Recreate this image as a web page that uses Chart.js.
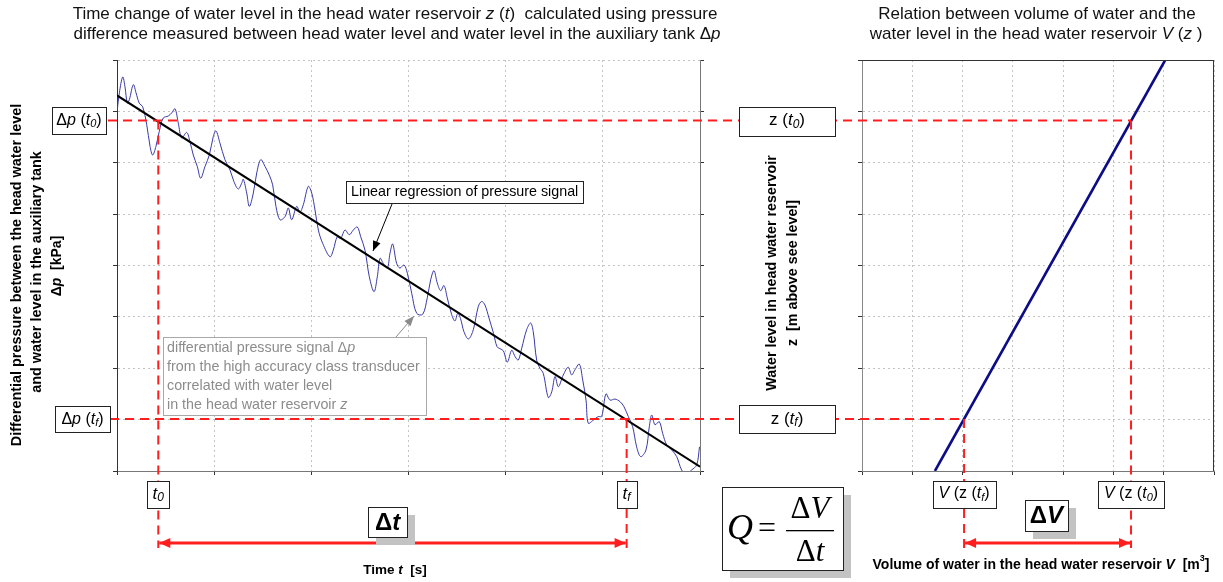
<!DOCTYPE html>
<html>
<head>
<meta charset="utf-8">
<script src="https://cdn.jsdelivr.net/npm/chart.js@4/dist/chart.umd.min.js"></script>
<style>
  html, body { margin: 0; padding: 0; background: #fff; }
  #wrap { position: relative; width: 1223px; height: 582px; overflow: hidden; }
  #wrap canvas { position: absolute; left: 0; top: 0; }
</style>
</head>
<body>
<div id="wrap">
  <canvas id="pressure" width="1223" height="582"></canvas>
  <canvas id="volume" width="1223" height="582"></canvas>
</div>
<script>
// ---- measured pressure signal (time, differential pressure) ----
const signalTime = [0.003,0.024,0.059,0.082,0.106,0.127,0.168,0.196,0.229,0.264,0.306,0.340,0.367,0.401,0.435,0.476,0.528,0.563,0.597,0.631,0.666,0.717,0.751,0.785,0.826,0.861,0.906,0.950,0.991,1.019,1.060,1.111,1.163,1.204,1.248,1.283,1.300,1.335,1.362,1.403,1.438,1.479,1.523,1.567,1.602,1.636,1.677,1.729,1.763,1.798,1.849,1.883,1.917,1.969,2.004,2.038,2.072,2.117,2.192,2.226,2.267,2.302,2.346,2.391,2.432,2.473,2.508,2.552,2.597,2.645,2.679,2.707,2.741,2.782,2.810,2.837,2.878,2.912,2.954,2.988,3.033,3.084,3.146,3.193,3.228,3.262,3.296,3.331,3.365,3.399,3.445,3.478,3.507,3.535,3.571,3.617,3.667,3.718,3.753,3.787,3.828,3.875,3.911,3.942,3.976,4.017,4.062,4.096,4.130,4.165,4.216,4.257,4.284,4.319,4.353,4.387,4.439,4.474,4.508,4.542,4.593,4.644,4.679,4.713,4.758,4.793,4.827,4.850,4.902,4.953,4.988,5.032,5.074,5.125,5.177,5.218,5.262,5.307,5.348,5.390,5.444,5.478,5.503,5.537,5.581,5.616,5.657,5.709,5.760,5.811,5.856,5.914,5.966,5.995];
const signalDp   = [7.03,7.36,7.67,7.48,7.16,7.23,7.52,7.36,7.16,7.09,6.74,6.32,6.15,6.32,6.61,6.87,6.91,6.97,7.05,6.77,6.48,6.59,6.41,6.15,5.93,5.70,5.93,6.15,6.51,6.62,6.38,6.06,5.86,5.63,5.49,5.60,5.68,5.41,5.15,5.41,5.80,6.06,5.93,5.76,5.57,5.15,4.89,4.95,5.12,4.89,5.15,5.04,5.18,5.54,5.41,5.08,4.69,4.43,4.17,4.30,4.56,4.53,4.69,4.60,4.69,4.75,4.56,4.30,3.78,3.49,3.78,4.14,4.04,3.95,4.24,4.42,4.04,3.95,4.01,3.85,3.46,3.07,3.05,3.37,3.72,3.90,3.66,3.51,3.61,3.37,3.04,2.92,3.07,2.97,2.71,2.57,2.75,3.20,3.30,3.23,2.98,2.68,2.42,2.38,2.34,2.12,2.35,2.23,2.16,2.39,2.75,2.88,2.71,2.16,2.00,1.90,1.43,1.54,1.84,1.64,1.87,2.02,1.87,1.97,2.08,1.77,1.38,0.93,0.99,1.06,1.06,1.50,1.38,1.40,1.35,1.25,1.06,0.86,0.47,0.28,0.41,0.86,1.09,0.90,0.96,0.73,0.51,0.41,0.28,0.02,-0.06,0.02,0.12,0.47];

// ---- linear regression of the pressure signal ----
const regressionTime = [0, 6];
const regressionDp   = [7.31, 0.084];

// ---- reservoir characteristic V(z) ----
const curveVolume = [1.45, 6.03];
const curveLevel  = [0, 8];

// ---- marked instants and levels ----
const t0 = 0.425, tf = 5.245;        // start / end of the measurement window
const dpT0 = 6.82, dpTf = 1.01;      // pressure at t0 and tf
const zT0 = 6.82, zTf = 1.01;        // matching water levels
const vT0 = 5.35, vTf = 2.03;        // volumes read from V(z)

// ---- axis ranges (tick labels are not printed) ----
const timeRange = [0, 6];
const dpRange = [0, 8];
const volumeRange = [0, 7];
const levelRange = [0, 8];

const SANS = '"Liberation Sans", Arial, Helvetica, sans-serif';
const SERIF = '"Liberation Serif", "Times New Roman", serif';
const GRID = '#c4c4c4';
const RED = '#ff1e1e';

function f(size, style) { return (style || '') + ' ' + size + 'px ' + SANS; }

// draws a line of text made of differently styled pieces: [text, font, dy]
function textRuns(ctx, parts, x, y, align) {
  let w = 0;
  parts.forEach(p => { ctx.font = p[1]; w += ctx.measureText(p[0]).width; });
  let cx = align === 'center' ? x - w / 2 : align === 'right' ? x - w : x;
  ctx.textAlign = 'left';
  ctx.textBaseline = 'middle';
  parts.forEach(p => {
    ctx.font = p[1];
    ctx.fillText(p[0], cx, y + (p[2] || 0));
    cx += ctx.measureText(p[0]).width;
  });
}

function rotatedRuns(ctx, parts, x, y) {
  ctx.save();
  ctx.translate(x, y);
  ctx.rotate(-Math.PI / 2);
  textRuns(ctx, parts, 0, 0, 'center');
  ctx.restore();
}

function box(ctx, x, y, w, h, shadow) {
  if (shadow) {
    ctx.fillStyle = '#c3c3c3';
    ctx.fillRect(x + shadow, y + shadow, w, h);
  }
  ctx.fillStyle = '#fff';
  ctx.fillRect(x, y, w, h);
  ctx.strokeStyle = '#222';
  ctx.lineWidth = 1;
  ctx.strokeRect(Math.round(x) + 0.5, Math.round(y) + 0.5, Math.round(w), Math.round(h));
}

function arrowHead(ctx, x1, y1, x2, y2, len, half) {
  const a = Math.atan2(y2 - y1, x2 - x1);
  ctx.beginPath();
  ctx.moveTo(x2, y2);
  ctx.lineTo(x2 - len * Math.cos(a) + half * Math.sin(a), y2 - len * Math.sin(a) - half * Math.cos(a));
  ctx.lineTo(x2 - len * Math.cos(a) - half * Math.sin(a), y2 - len * Math.sin(a) + half * Math.cos(a));
  ctx.closePath();
  ctx.fill();
}

function arrow(ctx, x1, y1, x2, y2, color, width, len, half, both) {
  ctx.strokeStyle = color;
  ctx.fillStyle = color;
  ctx.lineWidth = width;
  ctx.setLineDash([]);
  ctx.beginPath();
  ctx.moveTo(x1, y1);
  ctx.lineTo(x2, y2);
  ctx.stroke();
  arrowHead(ctx, x1, y1, x2, y2, len, half);
  if (both) arrowHead(ctx, x2, y2, x1, y1, len, half);
}

function dashed(ctx, x1, y1, x2, y2) {
  ctx.strokeStyle = RED;
  ctx.lineWidth = 2;
  ctx.setLineDash([9, 6]);
  ctx.beginPath();
  ctx.moveTo(x1, y1);
  ctx.lineTo(x2, y2);
  ctx.stroke();
  ctx.setLineDash([]);
}

// subscripted time labels
const tSub = (s, size) => [['t', f(size, 'italic')], [s, f(Math.round(size * 0.68), 'italic'), size * 0.22]];

function axisCommon(range, borderColor) {
  return {
    type: 'linear', min: range[0], max: range[1],
    ticks: { display: false, stepSize: 1 },
    grid: { color: GRID, lineWidth: 1, drawTicks: true, tickLength: 4, tickColor: '#333', tickWidth: 1 },
    border: { display: true, color: borderColor, width: 1, dash: [2, 3] }
  };
}

let pressureChart;

// ---------------- pressure vs time ----------------
pressureChart = new Chart(document.getElementById('pressure'), {
  type: 'line',
  data: {
    datasets: [
      {
        label: 'regression',
        data: regressionTime.map((t, i) => ({ x: t, y: regressionDp[i] })),
        borderColor: '#000', borderWidth: 2, pointRadius: 0, order: 0
      },
      {
        label: 'signal',
        data: signalTime.map((t, i) => ({ x: t, y: signalDp[i] })),
        borderColor: '#3838a8', borderWidth: 1, pointRadius: 0, tension: 0.35, order: 1
      }
    ]
  },
  options: {
    responsive: false, animation: false, devicePixelRatio: 1,
    layout: { padding: { left: 113, right: 519, top: 60, bottom: 107 } },
    plugins: { legend: { display: false }, tooltip: { enabled: false } },
    scales: {
      x: axisCommon(timeRange, '#777'),
      y: axisCommon(dpRange, '#333'),
      y2: Object.assign(axisCommon(dpRange, '#777'), { position: 'right', grid: { drawOnChartArea: false, drawTicks: true, tickLength: 4, tickColor: '#333' } })
    }
  }
});

// ---------------- overlay: guide lines, labels, formula ----------------
const overlay = {
  id: 'overlay',
  afterDraw(chart) {
    const ctx = chart.ctx;
    const px = pressureChart.scales.x, py = pressureChart.scales.y;
    const vx = chart.scales.x, vy = chart.scales.y;
    const ca = chart.chartArea;

    ctx.save();
    // right panel outline on top and right
    ctx.strokeStyle = '#333';
    ctx.lineWidth = 1;
    ctx.beginPath();
    ctx.moveTo(Math.round(ca.left), Math.round(ca.top) + 0.5);
    ctx.lineTo(Math.round(ca.right), Math.round(ca.top) + 0.5);
    ctx.moveTo(Math.round(ca.right) - 0.5, Math.round(ca.top));
    ctx.lineTo(Math.round(ca.right) - 0.5, Math.round(ca.bottom));
    ctx.stroke();

    const yT0 = py.getPixelForValue(dpT0), yTf = py.getPixelForValue(dpTf);
    const xT0 = px.getPixelForValue(t0), xTf = px.getPixelForValue(tf);
    const xVT0 = vx.getPixelForValue(vT0), xVTf = vx.getPixelForValue(vTf);
    const yZT0 = vy.getPixelForValue(zT0), yZTf = vy.getPixelForValue(zTf);
    const lowEnd = 548, arrowY = 543;

    // red guide lines
    dashed(ctx, 108, yT0, xVT0, yZT0);
    dashed(ctx, 110, yTf, xVTf, yZTf);
    dashed(ctx, xT0, yT0, xT0, lowEnd);
    dashed(ctx, xTf, yTf, xTf, lowEnd);
    dashed(ctx, xVTf, yZTf, xVTf, lowEnd);
    dashed(ctx, xVT0, yZT0, xVT0, lowEnd);

    // interval arrows
    arrow(ctx, xT0 + 1, arrowY, xTf - 1, arrowY, RED, 3, 11, 5, true);
    arrow(ctx, xVTf + 1, arrowY, xVT0 - 1, arrowY, RED, 3, 11, 5, true);

    ctx.fillStyle = '#000';
    // pressure labels on the left
    box(ctx, 52, yT0 - 13.5, 54, 27);
    ctx.fillStyle = '#000';
    textRuns(ctx, [['Δ', f(16)], ['p', f(16, 'italic')], [' (', f(16)], ...tSub('0', 16), [')', f(16)]], 79, yT0, 'center');
    box(ctx, 55, yTf - 13, 55, 26);
    ctx.fillStyle = '#000';
    textRuns(ctx, [['Δ', f(16)], ['p', f(16, 'italic')], [' (', f(16)], ...tSub('f', 16), [')', f(16)]], 82.5, yTf, 'center');

    // level labels in the middle
    box(ctx, 739, yZT0 - 14, 96, 29);
    ctx.fillStyle = '#000';
    textRuns(ctx, [['z', f(17)], [' (', f(17)], ...tSub('0', 17), [')', f(17)]], 787, yZT0, 'center');
    box(ctx, 739, yZTf - 14, 96, 28);
    ctx.fillStyle = '#000';
    textRuns(ctx, [['z', f(17)], [' (', f(17)], ...tSub('f', 17), [')', f(17)]], 787, yZTf, 'center');

    // time labels under the axis
    box(ctx, xT0 - 11, 481, 22, 27);
    ctx.fillStyle = '#000';
    textRuns(ctx, tSub('0', 17), xT0, 494, 'center');
    box(ctx, xTf - 10, 481, 20, 27);
    ctx.fillStyle = '#000';
    textRuns(ctx, tSub('f', 17), xTf, 494, 'center');

    // volume labels under the axis
    box(ctx, xVTf - 31, 481, 63, 27);
    ctx.fillStyle = '#000';
    textRuns(ctx, [['V', f(16, 'italic')], [' (', f(16)], ['z', f(16)], [' (', f(16)], ...tSub('f', 16), [')', f(16)]], xVTf, 494, 'center');
    box(ctx, xVT0 - 33, 481, 66, 27);
    ctx.fillStyle = '#000';
    textRuns(ctx, [['V', f(16, 'italic')], [' (', f(16)], ['z', f(16)], [' (', f(16)], ...tSub('0', 16), [')', f(16)]], xVT0, 494, 'center');

    // interval labels with shadow
    box(ctx, 368, 507, 39, 30, 8);
    ctx.fillStyle = '#000';
    textRuns(ctx, [['Δ', f(24, 'bold')], ['t', f(24, 'bold italic')]], 387.5, 523, 'center');
    box(ctx, 1025, 500, 43, 31, 8);
    ctx.fillStyle = '#000';
    textRuns(ctx, [['Δ', f(24, 'bold')], ['V', f(24, 'bold italic')]], 1046.5, 516, 'center');

    // flow formula
    box(ctx, 722, 487, 121, 83, 8);
    ctx.fillStyle = '#000';
    textRuns(ctx, [['Q', 'italic 36px ' + SERIF]], 740, 530, 'center');
    textRuns(ctx, [['=', '32px ' + SERIF]], 767, 530, 'center');
    textRuns(ctx, [['Δ', '31px ' + SERIF], ['V', 'italic 31px ' + SERIF]], 810, 510, 'center');
    textRuns(ctx, [['Δ', '31px ' + SERIF], ['t', 'italic 31px ' + SERIF]], 810, 553, 'center');
    ctx.fillRect(786, 530, 48, 1.3);

    // annotation of the regression line
    arrow(ctx, 392, 204, 373, 251, '#000', 1, 10, 4, false);
    box(ctx, 346, 181, 237, 22);
    ctx.fillStyle = '#000';
    textRuns(ctx, [['Linear regression of pressure signal', f(14.3)]], 351, 192.5, 'left');

    // annotation of the pressure signal
    arrow(ctx, 396, 337, 414, 316, '#8a8a8a', 1, 10, 4, false);
    ctx.fillStyle = '#fff';
    ctx.fillRect(163, 337, 263, 78);
    ctx.strokeStyle = '#a8a8a8';
    ctx.lineWidth = 1;
    ctx.strokeRect(163.5, 337.5, 263, 78);
    ctx.fillStyle = '#8c8c8c';
    textRuns(ctx, [['differential pressure signal Δ', f(14.3)], ['p', f(14.3, 'italic')]], 167, 348, 'left');
    textRuns(ctx, [['from the high accuracy class transducer', f(14.3)]], 167, 367, 'left');
    textRuns(ctx, [['correlated with water level', f(14.3)]], 167, 386, 'left');
    textRuns(ctx, [['in the head water reservoir ', f(14.3)], ['z', f(14.3, 'italic')]], 167, 405, 'left');

    // panel titles
    ctx.fillStyle = '#111';
    textRuns(ctx, [['Time change of water level in the head water reservoir ', f(17)], ['z', f(17, 'italic')], [' (', f(17)], ['t', f(17, 'italic')], [')  calculated using pressure', f(17)]], 395, 14, 'center');
    textRuns(ctx, [['difference measured between head water level and water level in the auxiliary tank Δ', f(17)], ['p', f(17, 'italic')]], 397, 34, 'center');
    textRuns(ctx, [['Relation between volume of water and the', f(17)]], 1037, 14, 'center');
    textRuns(ctx, [['water level in the head water reservoir ', f(17)], ['V', f(17, 'italic')], [' (', f(17)], ['z', f(17, 'italic')], [' )', f(17)]], 1036, 34, 'center');

    // axis titles
    ctx.fillStyle = '#000';
    rotatedRuns(ctx, [['Differential pressure between the head water level', f(14.4, 'bold')]], 17, 275);
    rotatedRuns(ctx, [['and water level in the auxiliary tank', f(14.4, 'bold')]], 37, 272);
    rotatedRuns(ctx, [['Δ', f(14, 'bold')], ['p', f(14, 'bold italic')], ['  [kPa]', f(14, 'bold')]], 57, 266);
    rotatedRuns(ctx, [['Water level in head water reservoir', f(14.3, 'bold')]], 772, 273);
    rotatedRuns(ctx, [['z', f(14.3, 'bold')], ['  [m above see level]', f(14.3, 'bold')]], 793, 273);
    textRuns(ctx, [['Time ', f(13.5, 'bold')], ['t', f(13.5, 'bold italic')], ['  [s]', f(13.5, 'bold')]], 395, 570, 'center');
    textRuns(ctx, [['Volume of water in the head water reservoir ', f(14, 'bold')], ['V', f(14, 'bold italic')], ['  [m', f(14, 'bold')], ['3', f(9, 'bold'), -6], [']', f(14, 'bold')]], 1041, 565, 'center');
    ctx.restore();
  }
};

// ---------------- level vs volume ----------------
new Chart(document.getElementById('volume'), {
  type: 'line',
  data: {
    datasets: [{
      label: 'V(z)',
      data: curveVolume.map((v, i) => ({ x: v, y: curveLevel[i] })),
      borderColor: '#0c0c86', borderWidth: 2.6, pointRadius: 0
    }]
  },
  options: {
    responsive: false, animation: false, devicePixelRatio: 1,
    layout: { padding: { left: 858, right: 9, top: 60, bottom: 107 } },
    plugins: { legend: { display: false }, tooltip: { enabled: false } },
    scales: {
      x: axisCommon(volumeRange, '#777'),
      y: axisCommon(levelRange, '#888')
    }
  },
  plugins: [overlay]
});
</script>
</body>
</html>
